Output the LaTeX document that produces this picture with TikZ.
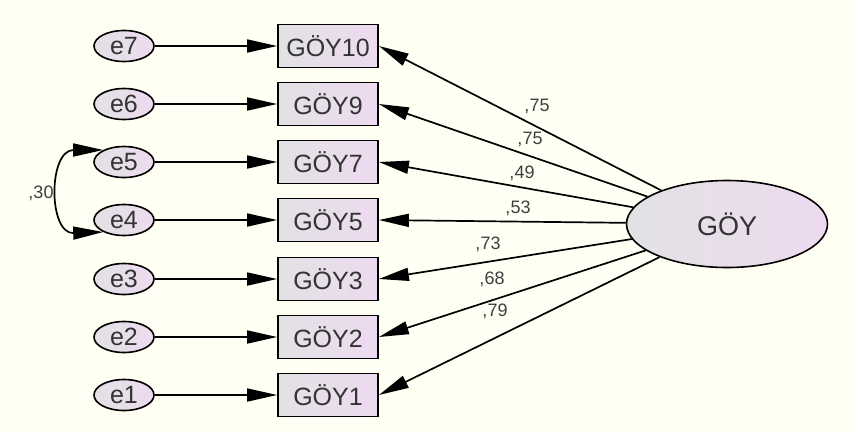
\documentclass[tikz,border=0pt]{standalone}
\usepackage{fontspec}
\setmainfont{Liberation Sans}
\usetikzlibrary{arrows.meta,shapes.geometric}
\definecolor{bg}{HTML}{FFFFF3}
\definecolor{lgrey}{HTML}{E2E2E4}
\definecolor{lpink}{HTML}{EEDAF0}
\tikzset{
  tip/.style={-{Triangle[length=30pt,width=13pt]}},
  errnode/.style={ellipse,draw,line width=1.6pt,minimum width=60pt,minimum height=31pt,inner sep=0pt,
    left color=lgrey,right color=lpink,font=\fontsize{25}{27}\selectfont,text=black!80},
  obsbox/.style={rectangle,draw,line width=1.8pt,minimum width=100pt,minimum height=43pt,inner sep=0pt,
    left color=lgrey,right color=lpink,font=\fontsize{25}{27}\selectfont,text=black!80},
  latent/.style={ellipse,draw,line width=1.6pt,minimum width=201pt,minimum height=87pt,inner sep=0pt,
    left color=lgrey,right color=lpink,font=\fontsize{27}{29}\selectfont,text=black!80},
  conn/.style={line width=1.7pt,black},
  coef/.style={font=\fontsize{18}{20}\selectfont,text=black!75,inner sep=0pt}
}
\begin{document}
\begin{tikzpicture}[x=1pt,y=-1pt]
\fill[bg] (0,0) rectangle (853,432);
\useasboundingbox (0,0) rectangle (853,432);
\foreach \n/\lab/\yy in {7/GÖY10/46,6/GÖY9/104,5/GÖY7/162,4/GÖY5/220,3/GÖY3/279,2/GÖY2/337,1/GÖY1/395}{
  \node[errnode] (e\n) at (124,\yy) {e\n};
  \node[obsbox] (b\n) at (328,\yy) {\lab};
  \draw[conn,tip] (e\n.east) -- (b\n.west);
}
\node[latent] (G) at (727,224) {GÖY};
\foreach \n in {1,...,7}{
  \draw[conn,tip] (G) -- (b\n.east);
}
\draw[conn,{Triangle[length=30pt,width=13pt]}-{Triangle[length=30pt,width=13pt]}]
  (e5.150) .. controls (48,150) and (48,234) .. (e4.210);
\node[coef] (c30) at (41,193) {,30};
\node[coef] (l7) at (537,106) {,75};
\node[coef] (l6) at (530,139) {,75};
\node[coef] (l5) at (522,173) {,49};
\node[coef] (l4) at (518,208) {,53};
\node[coef] (l3) at (488,244) {,73};
\node[coef] (l2) at (492,279) {,68};
\node[coef] (l1) at (495,311) {,79};
\end{tikzpicture}
\end{document}
